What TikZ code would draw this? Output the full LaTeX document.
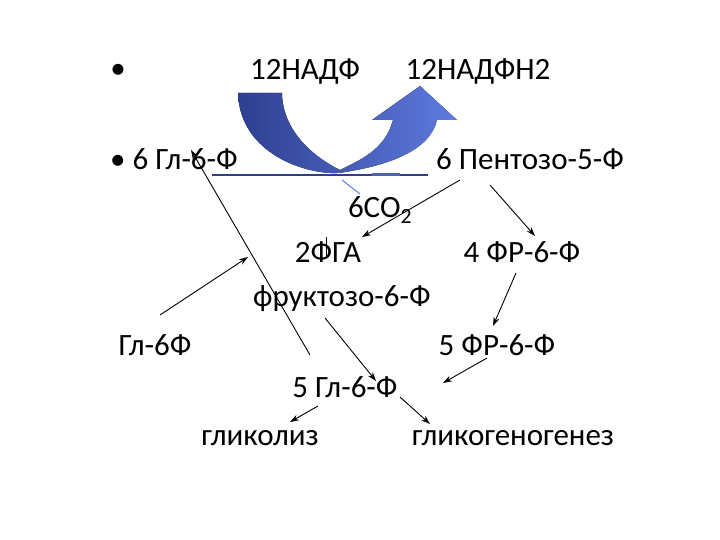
\documentclass[tikz,border=0pt]{standalone}
\usepackage{fontspec}
\setmainfont{Carlito}
\usetikzlibrary{arrows.meta}
\definecolor{bdark}{HTML}{2E3F8F}
\definecolor{blight}{HTML}{5F7BE0}
\begin{document}
\begin{tikzpicture}[x=1pt,y=-1pt,
 lbl/.style={font=\fontsize{31}{34}\selectfont,inner sep=0pt,anchor=base},
 arr/.style={-{Stealth[length=9pt,width=6pt]},line width=0.9pt}]
\useasboundingbox (0,0) rectangle (720,540);
\fill[left color=bdark, right color=blight]
 (238,93) .. controls (240,160) and (320,178) .. (345,172)
 .. controls (390,165) and (430,150) .. (437,120) -- (457,120) -- (420,86) -- (372,120) -- (393,120)
 .. controls (385,150) and (360,160) .. (340,170)
 .. controls (300,150) and (282,120) .. (282,93) -- cycle;
\node[lbl] (b1) at (118,79) {•};
\node[lbl] (n1) at (305,80) {12НАДФ};
\node[lbl] (n2) at (478,80) {12НАДФН2};
\node[lbl,anchor=base west] (g6) at (110,170) {• 6 Гл-6-Ф};
\node[lbl] (p5) at (530,170) {6 Пентозо-5-Ф};
\node[lbl] (co) at (380,218) {6CO\textsubscript{2}};
\node[lbl] (fga) at (328,262) {2ФГА};
\node[lbl] (fr4) at (522,262) {4 ФР-6-Ф};
\node[lbl] (fr) at (342,306) {фруктозо-6-Ф};
\node[lbl] (gl) at (155,355) {Гл-6Ф};
\node[lbl] (fr5) at (497,355) {5 ФР-6-Ф};
\node[lbl] (g5) at (345,397) {5 Гл-6-Ф};
\node[lbl] (gk) at (260,445) {гликолиз};
\node[lbl] (gg) at (513,445) {гликогеногенез};
\coordinate (t1) at (310,355); \coordinate (h1) at (191,150);
\draw[arr] (t1) -- (h1);
\coordinate (t2) at (160,315); \coordinate (h2) at (248,257);
\draw[arr] (t2) -- (h2);
\coordinate (hl1) at (212,175); \coordinate (hl2) at (428,175);
\draw[line width=1.2pt,bdark] (hl1) -- (hl2);
\coordinate (ba) at (372,175); \coordinate (bb) at (400,175);
\draw[line width=3pt,blight!80!black] (ba) -- (bb);
\coordinate (s1) at (342,180); \coordinate (s2) at (360,194);
\draw[line width=1pt,blight] (s1) -- (s2);
\coordinate (t3) at (460,180); \coordinate (h3) at (362,237);
\draw[arr] (t3) -- (h3);
\coordinate (v1) at (326,237); \coordinate (v2) at (326,256);
\draw[line width=0.9pt] (v1) -- (v2);
\coordinate (t4) at (490,185); \coordinate (h4) at (535,236);
\draw[arr] (t4) -- (h4);
\coordinate (t5) at (516,273); \coordinate (h5) at (493,326);
\draw[arr] (t5) -- (h5);
\coordinate (t6) at (487,358); \coordinate (h6) at (443,383);
\draw[arr] (t6) -- (h6);
\coordinate (t7) at (325,318); \coordinate (h7) at (376,381);
\draw[arr] (t7) -- (h7);
\coordinate (t8) at (318,406); \coordinate (h8) at (290,422);
\draw[arr] (t8) -- (h8);
\coordinate (t9) at (400,397); \coordinate (h9) at (430,424);
\draw[arr] (t9) -- (h9);
\end{tikzpicture}
\end{document}
